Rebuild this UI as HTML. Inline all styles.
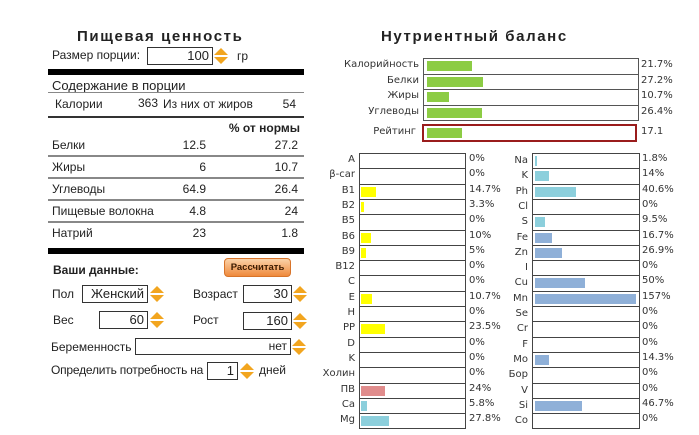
<!DOCTYPE html>
<html><head><meta charset="utf-8">
<style>
body{margin:0;width:699px;height:435px;background:#fff;position:relative;overflow:hidden;font-family:"Liberation Sans","DejaVu Sans",sans-serif;font-size:12px;color:#222}
.a{position:absolute;white-space:nowrap}
.r{text-align:right}
.box{position:absolute;border:1px solid #333;background:#fff;box-sizing:border-box;text-align:right;padding-right:3px;font-size:13px;line-height:15px}
.hl{position:absolute;left:48px;width:256px;height:2px;background:#888}
.blk{position:absolute;left:48px;width:256px;height:6px;background:#000}
.t{font-weight:bold;font-size:15px;letter-spacing:1.6px;font-family:"Liberation Sans",sans-serif}
.v{font-family:"DejaVu Sans",sans-serif;font-size:10px;color:#333}
</style></head><body>
<div class="a t" style="left:77px;top:28px">Пищевая ценность</div>
<div class="a" style="left:52px;top:48px">Размер порции:</div>
<div class="box" style="left:147px;top:47px;width:66px;height:18px">100</div>
<div class="a" style="left:237px;top:49px">гр</div>
<div class="blk" style="top:69px"></div>
<div class="a" style="left:52px;top:78px;font-size:13px">Содержание в порции</div>
<div class="hl" style="top:92px;height:1px"></div>
<div class="a" style="left:55px;top:97px">Калории</div>
<div class="a r" style="left:120px;width:38px;top:96px">363</div>
<div class="a" style="left:163px;top:97px">Из них от жиров</div>
<div class="a r" style="left:260px;width:36px;top:97px">54</div>
<div class="hl" style="top:116px;background:#333"></div>
<div class="a r" style="left:200px;width:100px;top:121px;font-weight:bold">% от нормы</div>
<div id="rows"></div>
<div class="blk" style="top:248px"></div>
<div class="a" style="left:53px;top:263px;font-weight:bold">Ваши данные:</div>
<div class="a" style="left:224px;top:258px;width:67px;height:19px;border-radius:4px;background:linear-gradient(#fbd2a8,#ef8a3c);border:1px solid #d8742a;box-sizing:border-box;font-size:9.5px;font-weight:bold;text-align:center;line-height:17px;color:#3a1a00">Рассчитать</div>
<div class="a" style="left:52px;top:287px">Пол</div>
<div class="box" style="left:82px;top:285px;width:66px;height:18px">Женский</div>
<div class="a" style="left:193px;top:287px">Возраст</div>
<div class="box" style="left:243px;top:285px;width:49px;height:18px">30</div>
<div class="a" style="left:53px;top:313px">Вес</div>
<div class="box" style="left:99px;top:311px;width:49px;height:18px">60</div>
<div class="a" style="left:193px;top:313px">Рост</div>
<div class="box" style="left:243px;top:312px;width:49px;height:18px">160</div>
<div class="a" style="left:51px;top:340px">Беременность</div>
<div class="box" style="left:135px;top:338px;width:156px;height:17px;font-size:12px">нет</div>
<div class="a" style="left:51px;top:363px;letter-spacing:-0.2px">Определить потребность на</div>
<div class="box" style="left:207px;top:362px;width:31px;height:18px">1</div>
<div class="a" style="left:259px;top:363px">дней</div>

<div class="a t" style="left:381px;top:28px">Нутриентный баланс</div>
<div id="chart"></div>
<script>
const tblNames=["Белки","Жиры","Углеводы","Пищевые волокна","Натрий"];
const tblAmounts=["12.5","6","64.9","4.8","23"];
const tblPercents=["27.2","10.7","26.4","24","1.8"];
const rows=document.getElementById('rows');
tblNames.forEach((n,i)=>{
  const y=138+i*22;
  const a=document.createElement('div');a.className='a';a.style.cssText=`left:52px;top:${y}px`;a.textContent=n;
  
  
  const b=document.createElement('div');b.className='a r';b.style.cssText=`left:150px;width:56px;top:${y}px`;b.textContent=tblAmounts[i];
  
  
  const c=document.createElement('div');c.className='a r';c.style.cssText=`left:240px;width:58px;top:${y}px`;c.textContent=tblPercents[i];
  
  
  rows.append(a,b,c);
  if(i<4){const l=document.createElement('div');l.className='hl';l.style.top=(y+17)+'px';l.style.height='1.5px';
  
  
  rows.append(l);}
});
function spinner(x,y){
  const s=document.createElement('div');s.className='a';s.style.cssText=`left:${x}px;top:${y}px;width:16px;height:18px`;
  
  
  s.innerHTML='<svg width="16" height="18"><polygon points="8,1 15,8 1,8" fill="#f2a51f"/><polygon points="8,17 15,10 1,10" fill="#f2a51f"/></svg>';
  document.body.append(s);
}
[[213,47],[149,285],[292,285],[149,311],[292,312],[291,338],[239,362]].forEach(p=>spinner(p[0],p[1]));

const mainCats=["Калорийность","Белки","Жиры","Углеводы"];
const mainVals=[21.7,27.2,10.7,26.4];
const ratingVal=17.1;
const vitCats=["A","β-car","B1","B2","B5","B6","B9","B12","C","E","H","PP","D","K","Холин","ПВ","Ca","Mg"];
const vitVals=[0,0,14.7,3.3,0,10,5,0,0,10.7,0,23.5,0,0,0,24,5.8,27.8];
const minCats=["Na","K","Ph","Cl","S","Fe","Zn","I","Cu","Mn","Se","Cr","F","Mo","Бор","V","Si","Co"];
const minVals=[1.8,14,40.6,0,9.5,16.7,26.9,0,50,157,0,0,0,14.3,0,0,46.7,0];

const C=document.getElementById('chart');
function mk(css,cls,name,txt){const d=document.createElement('div');d.className='a '+(cls||'');d.style.cssText=css;
  
  
  if(txt!==undefined)d.textContent=txt;C.append(d);return d;}
function mainX(v){return Math.min(v*2.07,208);}
mainCats.forEach((c,i)=>{
  const y=Math.round(58+i*15.5), y2=Math.round(58+(i+1)*15.5);
  mk(`left:330px;width:89px;top:${y+1}px`,'v r','main-label',c);
  mk(`left:423px;top:${y}px;width:216px;height:${y2-y+1}px;border:1px solid #555;box-sizing:border-box`,'','main-box');
  mk(`left:427px;top:${y+3}px;width:${mainX(mainVals[i])}px;height:10px;background:#8ccc44`,'','main-bar');
  mk(`left:641px;top:${y+1}px`,'v','main-value',mainVals[i]+'%');
});
mk(`left:330px;width:86px;top:126px`,'v r','rating-label','Рейтинг');
mk(`left:422px;top:124px;width:215px;height:18px;border:2px solid #9a1c1c;box-sizing:border-box`,'','rating-box');
mk(`left:427px;top:128px;width:${mainX(ratingVal)}px;height:10px;background:#8ccc44`,'','rating-bar');
mk(`left:641px;top:126px`,'v','rating-value',String(ratingVal));

function vitColor(i){return i>=16?'#8ccfdc':(i==15?'#e08c8c':'#ffff00');}
function minColor(i){return i<5?'#8ccfdc':'#8fb0d8';}
function smallX(v){return Math.min(v,101);}
const rowH=15.3;
function ry(i){return Math.round(153+i*rowH);}
vitCats.forEach((c,i)=>{
  const y=ry(i), h=ry(i+1)-y+1;
  mk(`left:300px;width:55px;top:${y+1}px`,'v r','vitamin-label',c);
  mk(`left:359px;top:${y}px;width:107px;height:${h}px;border:1px solid #444;box-sizing:border-box`,'','vitamin-box');
  if(vitVals[i]>0)mk(`left:361px;top:${y+3}px;width:${smallX(vitVals[i])}px;height:10px;background:${vitColor(i)}`,'','vitamin-bar');
  mk(`left:469px;top:${y}px`,'v','vitamin-value',vitVals[i]+'%');
});
minCats.forEach((c,i)=>{
  const y=ry(i), h=ry(i+1)-y+1;
  mk(`left:490px;width:38px;top:${y+2}px`,'v r','mineral-label',c);
  mk(`left:532px;top:${y}px;width:108px;height:${h}px;border:1px solid #444;box-sizing:border-box`,'','mineral-box');
  if(minVals[i]>0)mk(`left:535px;top:${y+3}px;width:${smallX(minVals[i])}px;height:10px;background:${minColor(i)}`,'','mineral-bar');
  mk(`left:642px;top:${y}px`,'v','mineral-value',minVals[i]+'%');
});
</script>
</body></html>
